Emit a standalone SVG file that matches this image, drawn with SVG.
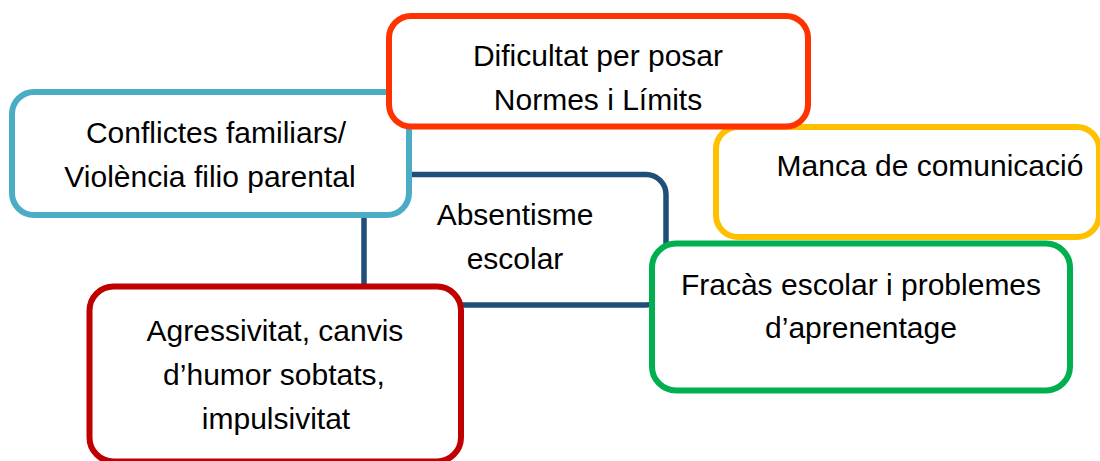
<svg xmlns="http://www.w3.org/2000/svg" width="1100" height="461" viewBox="0 0 1100 461">
  <style>
    .box { fill: #ffffff; stroke-width: 6; }
    .lbl { font-family: "Liberation Sans", Arial, sans-serif; font-size: 30px; fill: #000000; text-anchor: middle; }
  </style>
  <rect width="1100" height="461" fill="#ffffff"/>
  <g id="connectors"/>
  <g id="node-absentisme">
    <rect x="364" y="174.5" width="302" height="130.5" rx="20" ry="20" fill="none" stroke="#1F4E79" stroke-width="5.5"/>
  </g>
  <g id="node-conflictes">
    <rect class="box" x="12" y="92" width="397" height="123" rx="22" ry="22" stroke="#4BACC6"/>
    <text class="lbl" x="216" y="143">Conflictes familiars/</text>
    <text class="lbl" x="210" y="187">Violència filio parental</text>
  </g>
  <g id="node-manca">
    <rect class="box" x="716" y="127" width="383" height="110" rx="22" ry="22" stroke="#FFC000"/>
    <text class="lbl" x="930" y="176">Manca de comunicació</text>
  </g>
  <g id="node-dificultat">
    <rect class="box" x="389" y="16" width="419" height="110.5" rx="22" ry="22" stroke="#FF3300"/>
    <text class="lbl" x="598" y="66">Dificultat per posar</text>
    <text class="lbl" x="598" y="110">Normes i Límits</text>
  </g>
  <g id="node-absentisme-text">
    <text class="lbl" x="515" y="225">Absentisme</text>
    <text class="lbl" x="515" y="269">escolar</text>
  </g>
  <g id="node-fracas">
    <rect class="box" x="652" y="243.5" width="418" height="147" rx="24" ry="24" stroke="#00B050"/>
    <text class="lbl" x="861" y="295">Fracàs escolar i problemes</text>
    <text class="lbl" x="861" y="338">d’aprenentage</text>
  </g>
  <g id="node-agressivitat">
    <rect class="box" x="89.5" y="286.5" width="371.5" height="175" rx="24" ry="24" stroke="#C00000"/>
    <text class="lbl" x="275" y="341">Agressivitat, canvis</text>
    <text class="lbl" x="274" y="385">d’humor sobtats,</text>
    <text class="lbl" x="276" y="429">impulsivitat</text>
  </g>
</svg>
